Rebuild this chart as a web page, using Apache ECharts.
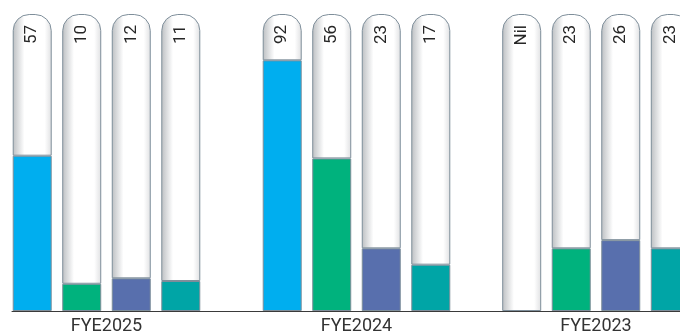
<!DOCTYPE html>
<html>
<head>
<meta charset="utf-8">
<script src="https://cdn.jsdelivr.net/npm/echarts@6/dist/echarts.min.js"></script>
<style>
  html, body { margin: 0; padding: 0; background: #fff; }
  #chart { width: 680px; height: 335px; }
</style>
</head>
<body>
<div id="chart"></div>
<script>
// Financial years, one group of four bars each
const years = ['FYE2025', 'FYE2024', 'FYE2023'];

// Values per bar position in each group (null = Nil)
const metricA = [57, 92, null];
const metricB = [10, 56, 23];
const metricC = [12, 23, 26];
const metricD = [11, 17, 23];

const metrics = [metricA, metricB, metricC, metricD];
const fillColors = ['#00aeef', '#00b27d', '#586fad', '#00a5a6'];

// Full height of each capsule in value units
const CAP_MAX = 109;

// Each year gets its own panel so the groups can be spaced freely
const panels = [
  { left: 12, width: 189 },
  { left: 201, width: 311 },
  { left: 512, width: 172 }
];

const edge = '#7e8e9a';
const capFill = new echarts.graphic.LinearGradient(0, 0, 1, 0, [
  { offset: 0, color: '#bcbfc2' },
  { offset: 0.3, color: '#ffffff' },
  { offset: 0.82, color: '#ffffff' },
  { offset: 1, color: '#dfe0e2' }
]);

const grid = [], xAxis = [], yAxis = [], series = [];

years.forEach((year, g) => {
  grid.push({ left: panels[g].left, width: panels[g].width, top: 14, bottom: 24 });
  xAxis.push({
    type: 'category',
    gridIndex: g,
    data: [year],
    axisLine: { lineStyle: { color: '#3a3a3a', width: 1 } },
    axisTick: { show: false },
    axisLabel: { color: '#333', fontSize: 18, fontFamily: 'Roboto', margin: 6 }
  });
  yAxis.push({ type: 'value', gridIndex: g, min: 0, max: CAP_MAX, show: false });

  metrics.forEach((values, i) => {
    const v = values[g];
    const stackId = 'y' + g + '-bar' + i;
    // coloured part of the bar
    series.push({
      type: 'bar',
      xAxisIndex: g, yAxisIndex: g,
      stack: stackId,
      barWidth: 39,
      barGap: '27%',
      clip: false,
      data: [v],
      itemStyle: { color: fillColors[i], borderColor: edge, borderWidth: 1 },
      silent: true
    });
    // empty remainder of the capsule, carrying the value label at its top
    series.push({
      type: 'bar',
      xAxisIndex: g, yAxisIndex: g,
      stack: stackId,
      barWidth: 39,
      barGap: '27%',
      clip: false,
      data: [v == null ? CAP_MAX : CAP_MAX - v],
      itemStyle: {
        color: capFill,
        borderColor: edge,
        borderWidth: 1,
        borderRadius: [16, 16, 0, 0]
      },
      label: {
        show: true,
        position: 'insideTop',
        distance: 11,
        rotate: 90,
        align: 'right',
        verticalAlign: 'middle',
        color: '#262626',
        fontSize: 17,
        fontFamily: 'Roboto',
        formatter: () => (v == null ? 'Nil' : String(v))
      },
      silent: true
    });
  });
});

const chart = echarts.init(document.getElementById('chart'), null, { renderer: 'canvas' });
chart.setOption({
  animation: false,
  grid, xAxis, yAxis, series
});
</script>
</body>
</html>
